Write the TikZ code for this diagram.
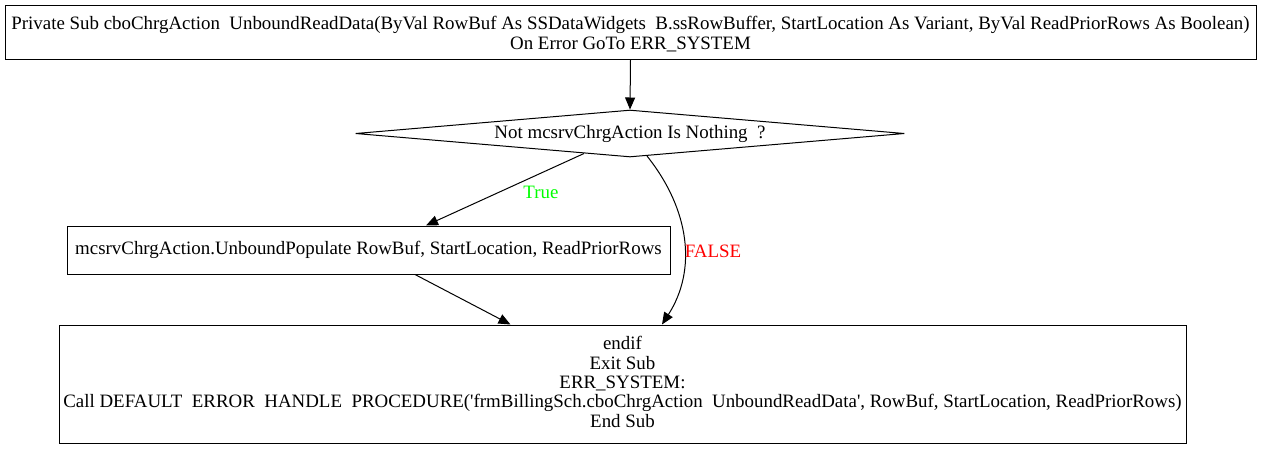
\documentclass[tikz,border=0pt]{standalone}
\usepackage{fontspec}
\setmainfont{Liberation Serif}
\usetikzlibrary{shapes.geometric,arrows.meta,calc}
\begin{document}
\begin{tikzpicture}[x=1pt,y=-1pt,
  txt/.style={font=\fontsize{18.9}{19.4}\selectfont},
  box/.style={draw, line width=1pt, inner sep=0pt, align=center, txt},
  dec/.style={draw, line width=1pt, shape=diamond, aspect=11.7, inner sep=0pt, txt},
  edge/.style={draw, line width=1pt, -{Triangle[length=12pt,width=10pt]}},
  lbl/.style={txt, inner sep=0pt}]
\useasboundingbox (0,0) rectangle (1261,448);
\node[box, minimum width=1251pt, minimum height=54pt] (b1) at (630.5,32) {};
\node[txt, align=center, inner sep=0pt] (b1t) at (630.5,34)
  {Private Sub cboChrgAction~ UnboundReadData(ByVal RowBuf As SSDataWidgets~ B.ssRowBuffer, StartLocation As Variant, ByVal ReadPriorRows As Boolean)\\On Error GoTo ERR\_SYSTEM};
\node[dec, minimum width=549pt, minimum height=47pt] (d) at (630,133.5)
  {Not mcsrvChrgAction Is Nothing~ ?};
\node[box, minimum width=603pt, minimum height=48pt] (b2) at (368.5,250)
  {mcsrvChrgAction.UnboundPopulate RowBuf, StartLocation, ReadPriorRows};
\node[box, minimum width=1127pt, minimum height=118pt] (b3) at (622.5,384) {};
\node[txt, align=center, inner sep=0pt] (b3t) at (622.5,382)
  {endif\\Exit Sub\\ERR\_SYSTEM:\\Call DEFAULT~ ERROR~ HANDLE~ PROCEDURE(\textquotesingle frmBillingSch.cboChrgAction~ UnboundReadData\textquotesingle, RowBuf, StartLocation, ReadPriorRows)\\End Sub};
\path[edge] (b1.south) -- (d.north);
\path[edge] ($(d.center)+(-46,20)$) -- ($(b2.north)+(57.5,0)$);
\path[edge] ($(b2.south)+(46.5,0)$) -- ($(b3.north)+(-112,0)$);
\path[edge] ($(d.center)+(17,22.5)$) .. controls (690,210) and (697,270) .. ($(b3.north)+(39.5,0)$);
\node[lbl, text=green] (tl) at (541,192) {True};
\node[lbl, text=red] (fl) at (713,251) {FALSE};
\end{tikzpicture}
\end{document}
